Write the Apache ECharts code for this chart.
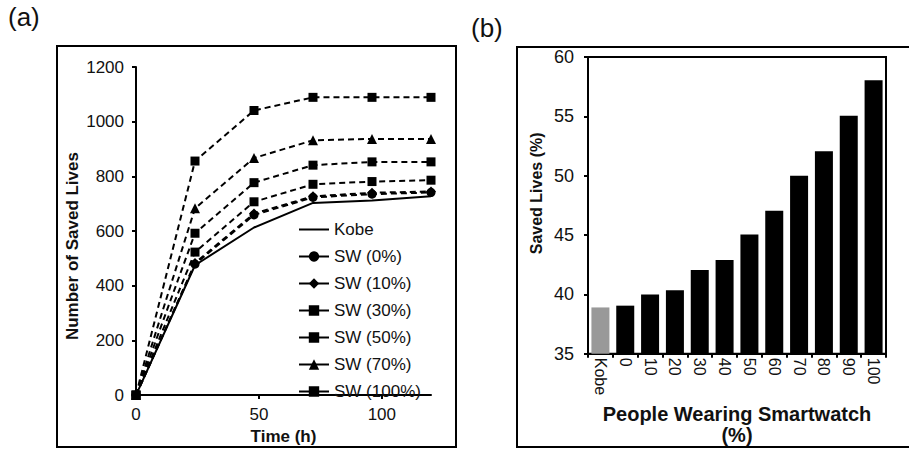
<!DOCTYPE html>
<html>
<head>
<meta charset="utf-8">
<script src="https://cdn.jsdelivr.net/npm/echarts@6/dist/echarts.min.js"></script>
<style>
html,body{margin:0;padding:0;background:#fff;}
#c{width:909px;height:450px;}
</style>
</head>
<body>
<div id="c"></div>
<script>
// ---- Panel (a) data ----
const times = [0, 24, 48, 72, 96, 120];
const kobe  = [0, 475, 613, 703, 712, 727];
const sw0   = [0, 479, 659, 723, 735, 741];
const sw10  = [0, 483, 664, 727, 740, 745];
const sw30  = [0, 523, 707, 771, 781, 786];
const sw50  = [0, 592, 777, 841, 853, 853];
const sw70  = [0, 683, 867, 932, 937, 937];
const sw100 = [0, 856, 1041, 1089, 1089, 1089];
const xTicksA = [0, 50, 100];

// ---- Panel (b) data ----
const categoriesB = ['Kobe', '0', '10', '20', '30', '40', '50', '60', '70', '80', '90', '100'];
const savedPct = [38.9, 39.05, 40.0, 40.35, 42.05, 42.9, 45.05, 47.05, 50.0, 52.05, 55.05, 58.05];

const FONT = "'Liberation Sans', Arial, sans-serif";
const chart = echarts.init(document.getElementById('c'), null, {renderer: 'svg'});

function pairs(vals) { return times.map((t, i) => [t, vals[i]]); }

const lineDefs = [
  {name: 'Kobe', vals: kobe, symbol: 'circle', size: 0, dashed: false},
  {name: 'SW (0%)', vals: sw0, symbol: 'circle', size: 9, dashed: true},
  {name: 'SW (10%)', vals: sw10, symbol: 'diamond', size: 10, dashed: true},
  {name: 'SW (30%)', vals: sw30, symbol: 'rect', size: 9, dashed: true},
  {name: 'SW (50%)', vals: sw50, symbol: 'rect', size: 9, dashed: true},
  {name: 'SW (70%)', vals: sw70, symbol: 'triangle', size: 10, dashed: true},
  {name: 'SW (100%)', vals: sw100, symbol: 'rect', size: 9, dashed: true}
];

const lineSeries = lineDefs.map(d => ({
  type: 'line',
  name: d.name,
  xAxisIndex: 0, yAxisIndex: 0,
  data: pairs(d.vals),
  symbol: d.symbol,
  symbolSize: d.size,
  showSymbol: d.dashed,
  itemStyle: {color: '#000'},
  lineStyle: {color: '#000', width: 2, type: d.dashed ? [6, 4] : 'solid'},
  emphasis: {disabled: true},
  animation: false,
  z: d.dashed ? 3 : 2
}));

const axisCommon = {
  axisLine: {show: true, lineStyle: {color: '#000', width: 2}},
  axisTick: {show: true, inside: false, length: 4, lineStyle: {color: '#000', width: 2}},
  splitLine: {show: false},
  axisLabel: {color: '#111', fontFamily: FONT, fontSize: 17}
};

const legendData = lineDefs.map(d => d.dashed
  ? {name: d.name, lineStyle: {color: '#000', width: 2, type: 'solid'}}
  : {name: d.name, lineStyle: {color: '#000', width: 2, type: 'solid'}, itemStyle: {color: 'rgba(0,0,0,0)', borderWidth: 0}});

const option = {
  animation: false,
  backgroundColor: '#fff',
  textStyle: {fontFamily: FONT},
  graphic: [
    {type: 'rect', shape: {x: 57, y: 46, width: 399, height: 401}, style: {fill: 'none', stroke: '#000', lineWidth: 2}, silent: true},
    {type: 'rect', shape: {x: 517, y: 47, width: 400, height: 400}, style: {fill: 'none', stroke: '#000', lineWidth: 2}, silent: true},
    {type: 'text', left: 8, top: 4, style: {text: '(a)', font: '26px ' + FONT, fill: '#111'}},
    {type: 'text', left: 471, top: 15, style: {text: '(b)', font: '26px ' + FONT, fill: '#111'}}
  ],
  legend: {
    data: legendData,
    orient: 'vertical',
    left: 298, top: 221,
    padding: 0,
    itemWidth: 30, itemHeight: 13, itemGap: 10,
    textStyle: {color: '#111', fontFamily: FONT, fontSize: 17},
    selectedMode: false
  },
  grid: [
    {left: 136, top: 67, width: 295, height: 334, containLabel: false},
    {left: 588, top: 57, width: 298, height: 309, containLabel: false, show: true, borderColor: '#000', borderWidth: 2, backgroundColor: 'transparent'}
  ],
  xAxis: [
    Object.assign({}, axisCommon, {
      type: 'value', gridIndex: 0, min: 0, max: 120, interval: 50,
      axisTick: Object.assign({}, axisCommon.axisTick, {customValues: xTicksA}),
      axisLabel: Object.assign({}, axisCommon.axisLabel, {customValues: xTicksA, margin: 11}),
      name: 'Time (h)', nameLocation: 'middle', nameGap: 20,
      nameTextStyle: {color: '#111', fontFamily: FONT, fontSize: 17, fontWeight: 'bold'}
    }),
    Object.assign({}, axisCommon, {
      type: 'category', gridIndex: 1, data: categoriesB,
      axisTick: Object.assign({}, axisCommon.axisTick, {alignWithLabel: false}),
      axisLabel: Object.assign({}, axisCommon.axisLabel, {rotate: -90, margin: 4, interval: 0, fontSize: 16}),
      name: 'People Wearing Smartwatch\n(%)', nameLocation: 'middle', nameGap: 42,
      nameTextStyle: {color: '#111', fontFamily: FONT, fontSize: 20, fontWeight: 'bold', lineHeight: 21}
    })
  ],
  yAxis: [
    Object.assign({}, axisCommon, {
      type: 'value', gridIndex: 0, min: 0, max: 1200, interval: 200,
      axisLabel: Object.assign({}, axisCommon.axisLabel, {margin: 12, formatter: v => String(v)}),
      name: 'Number of Saved Lives', nameLocation: 'middle', nameGap: 55,
      nameTextStyle: {color: '#111', fontFamily: FONT, fontSize: 17, fontWeight: 'bold', padding: [0, 30, 0, 0]}
    }),
    Object.assign({}, axisCommon, {
      type: 'value', gridIndex: 1, min: 35, max: 60, interval: 5,
      axisLabel: Object.assign({}, axisCommon.axisLabel, {margin: 14, fontSize: 18}),
      name: 'Saved Lives (%)', nameLocation: 'middle', nameGap: 44,
      nameTextStyle: {color: '#111', fontFamily: FONT, fontSize: 16, fontWeight: 'bold', padding: [0, 0, 0, 24]}
    })
  ],
  series: lineSeries.concat([{
    type: 'bar',
    name: 'Saved Lives (%)',
    xAxisIndex: 1, yAxisIndex: 1,
    barWidth: 18,
    data: savedPct.map((v, i) => ({value: v, itemStyle: {color: i === 0 ? '#999999' : '#000'}})),
    emphasis: {disabled: true},
    animation: false
  }])
};
chart.setOption(option);
</script>
</body>
</html>
